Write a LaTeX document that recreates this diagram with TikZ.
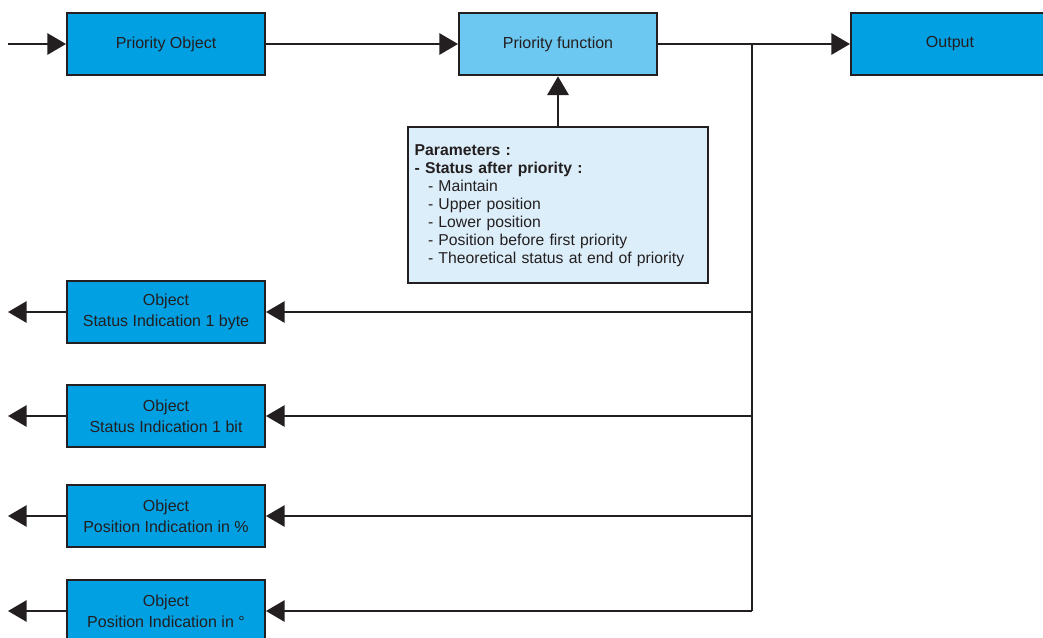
\documentclass[tikz,border=0pt]{standalone}
\usepackage{fontspec}
\setmainfont{Liberation Sans}
\usetikzlibrary{arrows.meta,positioning}

\definecolor{objblue}{HTML}{00A0E3}
\definecolor{funcblue}{HTML}{6CC8F1}
\definecolor{parblue}{HTML}{DCEEF9}
\definecolor{inkgray}{HTML}{231F20}

\tikzset{
  block/.style={draw=inkgray, line width=1.5pt, fill=objblue, text=inkgray,
    minimum width=148.5pt, minimum height=47pt, inner sep=2pt, align=center,
    font=\fontsize{12}{15.5}\selectfont},
  funcblock/.style={block, fill=funcblue},
  parblock/.style={draw=inkgray, line width=1.5pt, fill=parblue, text=inkgray,
    minimum width=225pt, minimum height=117pt, text width=215pt, inner xsep=5pt,
    align=left, font=\fontsize{11.8}{13.5}\selectfont},
  flow/.style={draw=inkgray, line width=1.5pt, -{Triangle[length=14pt,width=16pt]}},
  wire/.style={draw=inkgray, line width=1.5pt},
}

\begin{document}
\begin{tikzpicture}[x=0.75pt, y=-0.75pt, node distance=144pt]
\useasboundingbox (0,0) rectangle (1043,637);

%% main chain
\node[block] (prio_obj) at (166,44) {Priority Object};
\node[funcblock, right=of prio_obj] (prio_func) {Priority function};
\node[block, right=of prio_func] (output) {Output};
\coordinate (in_start) at (8,44);

\draw[flow] (in_start) -- (prio_obj);
\draw[flow] (prio_obj) -- (prio_func);

%% parameters
\node[parblock, below=37.5pt of prio_func] (params) {%
\textbf{Parameters :}\\
\textbf{- Status after priority :}\\
\hspace*{10pt}- Maintain\\
\hspace*{10pt}- Upper position\\
\hspace*{10pt}- Lower position\\
\hspace*{10pt}- Position before first priority\\
\hspace*{10pt}- Theoretical status at end of priority};

\draw[flow] (params) -- (prio_func);

%% status objects
\node[block] (obj_byte) at (166,312) {Object\\Status Indication 1 byte};
\node[block] (obj_bit) at (166,416) {Object\\Status Indication 1 bit};
\node[block] (obj_pct) at (166,516) {Object\\Position Indication in \%};
\node[block] (obj_deg) at (166,611) {Object\\Position Indication in °};

% bus
\coordinate (split) at (752,44);
\draw[wire] (prio_func) -- (split);
\draw[flow] (split) -- (output);
\draw[wire] (split) -- (split |- obj_deg);

\foreach \obj in {obj_byte,obj_bit,obj_pct,obj_deg}{
  \draw[flow] (split |- \obj) -- (\obj);
  \draw[flow] (\obj.west) -- (\obj.west -| in_start);
}

\end{tikzpicture}
\end{document}
